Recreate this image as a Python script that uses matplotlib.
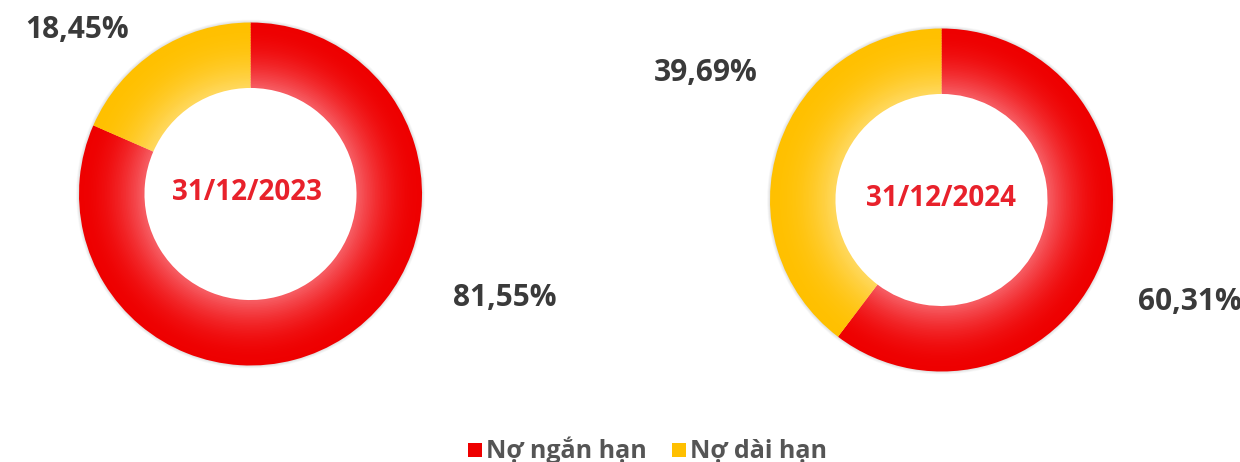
import matplotlib
matplotlib.use("Agg")
import matplotlib.pyplot as plt
import numpy as np
from matplotlib.colors import to_rgb

categories = ["Nợ ngắn hạn", "Nợ dài hạn"]
periods = ["31/12/2023", "31/12/2024"]
values_2023 = [81.55, 18.45]
values_2024 = [60.31, 39.69]
series = [values_2023, values_2024]

base_colors = ["#EE0000", "#FFC000"]
light_colors = ["#F65A60", "#FFD75A"]

W, H = 1240, 462
fig = plt.figure(figsize=(W / 100, H / 100), dpi=100)
ax = fig.add_axes([0, 0, 1, 1])

def img(x, y):
    return x, H - y

centers = [img(250.5, 194), img(941.5, 200)]
r_out, r_in = 171.5, 107.0
date_pos = [img(247, 192), img(941, 199)]
label_pos = [
    [img(505, 298), img(77, 30)],
    [img(1190, 302), img(706, 73)],
]

def fmt(v):
    return f"{v:.2f}".replace(".", ",") + "%"

N = 40
for vals, c, dpos, lpos, per in zip(series, centers, date_pos, label_pos, periods):
    # soft shadow
    for s in range(6):
        ax.pie(vals, radius=r_out + 3 - s * 0.5, center=c, startangle=90, counterclock=False,
               colors=[(0, 0, 0, 0.018)] * 2, wedgeprops=dict(width=8, linewidth=0),
               frame=True)
    dw = (r_out - r_in) / N
    for k in range(N):
        r = r_out - k * dw
        t = (k / (N - 1)) ** 2.0
        cols = []
        for b, l in zip(base_colors, light_colors):
            b, l = np.array(to_rgb(b)), np.array(to_rgb(l))
            cols.append(tuple(b + (l - b) * t))
        ax.pie(vals, radius=r, center=c, startangle=90, counterclock=False,
               colors=cols, wedgeprops=dict(width=dw * 1.6, linewidth=0),
               frame=True)
    ax.text(*dpos, per, ha="center", va="center", fontsize=20, fontweight="bold",
            color="#E8212B", family="Open Sans")
    for v, p in zip(vals, lpos):
        ax.text(*p, fmt(v), ha="center", va="center", fontsize=21.5, fontweight="bold",
                color="#3A3A3A", family="Open Sans")

# legend
leg_items = [(img(468, 457), categories[0], base_colors[0]),
             (img(672, 457), categories[1], base_colors[1])]
for (x, y), lab, col in leg_items:
    ax.add_patch(plt.Rectangle((x, y), 14, 14, color=col, linewidth=0))
    ax.text(x + 18, y - 1, lab, ha="left", va="baseline", fontsize=18,
            fontweight="bold", color="#555555", family="Open Sans")

ax.set_xlim(0, W)
ax.set_ylim(0, H)
ax.set_aspect("equal")
ax.axis("off")
fig.savefig("out.png", dpi=100)
